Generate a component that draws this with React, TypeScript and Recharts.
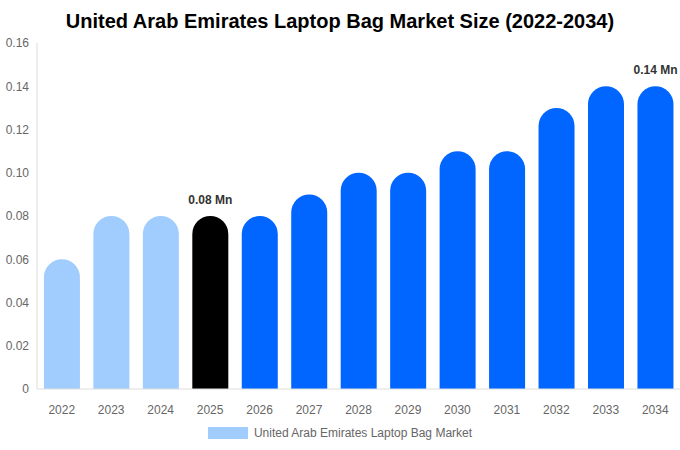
import { Bar, BarChart, Cell, LabelList, Legend, XAxis, YAxis } from "recharts";

const years = ["2022", "2023", "2024", "2025", "2026", "2027", "2028", "2029", "2030", "2031", "2032", "2033", "2034"];
const marketSize = [0.06, 0.08, 0.08, 0.08, 0.08, 0.09, 0.1, 0.1, 0.11, 0.11, 0.13, 0.14, 0.14];
const barColors = ["#a0cdfd", "#a0cdfd", "#a0cdfd", "#000000", "#0066ff", "#0066ff", "#0066ff", "#0066ff", "#0066ff", "#0066ff", "#0066ff", "#0066ff", "#0066ff"];
const labelledYears = ["2025", "2034"];
const yTicks = [0, 0.02, 0.04, 0.06, 0.08, 0.1, 0.12, 0.14, 0.16];

const seriesName = "United Arab Emirates Laptop Bag Market";

const font = "'Liberation Sans', Arial, sans-serif";

// plain svg text so the label doesn't wrap to the bar width
function TopLabel(props: any) {
  const { x, y, width, value } = props;
  if (!value) return null;
  return (
    <text
      x={Number(x) + Number(width) / 2}
      y={Number(y) - 12}
      textAnchor="middle"
      fill="#333"
      fontSize={12}
      fontWeight="bold"
      fontFamily={font}
    >
      {value}
    </text>
  );
}

export default function App() {
  const data = years.map((year, i) => ({
    year,
    value: marketSize[i],
    label: labelledYears.includes(year) ? `${marketSize[i].toFixed(2)} Mn` : "",
  }));

  return (
    <div style={{ position: "absolute", left: 0, top: 0, width: 680, height: 450, background: "#fff", fontFamily: font }}>
      <div
        style={{
          position: "absolute",
          top: 8,
          left: 0,
          width: 680,
          textAlign: "center",
          fontSize: 20,
          fontWeight: "bold",
          color: "#000",
          lineHeight: "26px",
        }}
      >
        United Arab Emirates Laptop Bag Market Size (2022-2034)
      </div>
      <BarChart
        width={680}
        height={450}
        data={data}
        margin={{ top: 43, right: 0, left: 0, bottom: 31 }}
        barCategoryGap="14%"
      >
        <XAxis
          dataKey="year"
          tickLine={false}
          axisLine={{ stroke: "#dddddd" }}
          tick={{ fill: "#666", fontSize: 12, fontFamily: font }}
          tickMargin={10}
          height={30}
          interval={0}
        />
        <YAxis
          width={37}
          domain={[0, 0.16]}
          ticks={yTicks}
          tickLine={false}
          axisLine={{ stroke: "#dddddd" }}
          tick={{ fill: "#666", fontSize: 12, fontFamily: font }}
          tickFormatter={(v: number) => (v === 0 ? "0" : v.toFixed(2))}
        />
        <Legend
          layout="horizontal"
          verticalAlign="middle"
          align="center"
          wrapperStyle={{ top: 426, left: 0, width: 680 }}
          content={() => (
            <div style={{ display: "flex", justifyContent: "center", alignItems: "center", fontFamily: font }}>
              <span style={{ display: "inline-block", width: 40, height: 12, background: barColors[0], marginRight: 6 }} />
              <span style={{ fontSize: 12, color: "#666" }}>{seriesName}</span>
            </div>
          )}
        />
        <Bar dataKey="value" name={seriesName} radius={[18, 18, 0, 0]} isAnimationActive={false}>
          {data.map((d, i) => (
            <Cell key={d.year} fill={barColors[i]} />
          ))}
          <LabelList dataKey="label" content={TopLabel} />
        </Bar>
      </BarChart>
    </div>
  );
}
